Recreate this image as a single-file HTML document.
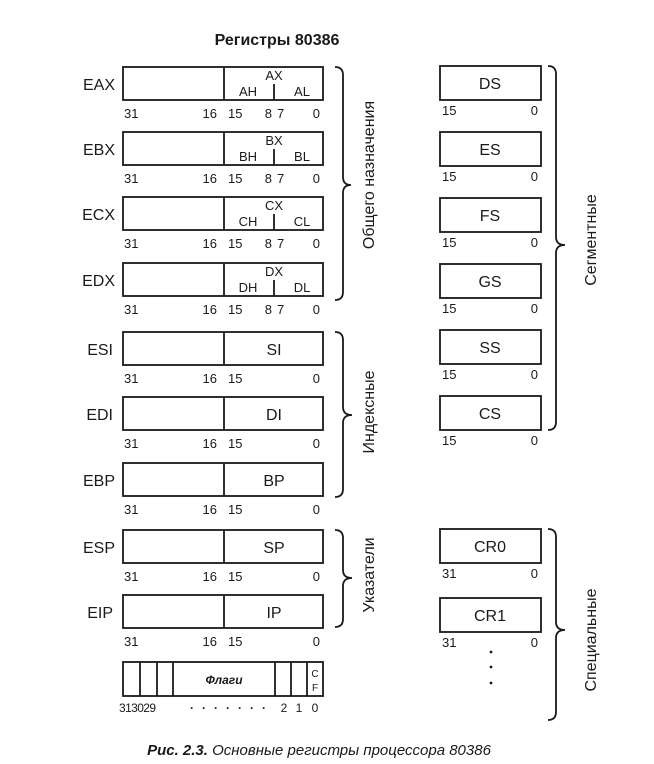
<!DOCTYPE html>
<html><head><meta charset="utf-8"><style>
html,body{margin:0;padding:0;background:#fff}
svg{display:block}
text{font-family:"Liberation Sans",sans-serif;fill:#1a1a1a}
.n{font-size:13px}
.r{font-size:16px}
.s{font-size:13px}
.b{fill:none;stroke:#1a1a1a;stroke-width:1.8}
</style></head><body>
<svg width="654" height="764" viewBox="0 0 654 764" xmlns="http://www.w3.org/2000/svg">
<text x="277" y="45" text-anchor="middle" font-size="16" font-weight="bold">Регистры 80386</text>

<g>
<text class="r" x="115" y="90" text-anchor="end">EAX</text>
<rect class="b" x="123" y="67" width="200" height="33"/><line class="b" x1="224" y1="67" x2="224" y2="100"/>
<line class="b" x1="274" y1="84" x2="274" y2="100" stroke-width="1.2"/>
<text class="s" x="274" y="80" text-anchor="middle">AX</text><text class="s" x="248" y="96" text-anchor="middle">AH</text><text class="s" x="302" y="96" text-anchor="middle">AL</text>
<text class="n" x="124" y="118">31</text><text class="n" x="217" y="118" text-anchor="end">16</text><text class="n" x="228" y="118">15</text><text class="n" x="272" y="118" text-anchor="end">8</text><text class="n" x="277" y="118">7</text><text class="n" x="320" y="118" text-anchor="end">0</text>
</g>
<g transform="translate(0,65)">
<text class="r" x="115" y="90" text-anchor="end">EBX</text>
<rect class="b" x="123" y="67" width="200" height="33"/><line class="b" x1="224" y1="67" x2="224" y2="100"/>
<line class="b" x1="274" y1="84" x2="274" y2="100" stroke-width="1.2"/>
<text class="s" x="274" y="80" text-anchor="middle">BX</text><text class="s" x="248" y="96" text-anchor="middle">BH</text><text class="s" x="302" y="96" text-anchor="middle">BL</text>
<text class="n" x="124" y="118">31</text><text class="n" x="217" y="118" text-anchor="end">16</text><text class="n" x="228" y="118">15</text><text class="n" x="272" y="118" text-anchor="end">8</text><text class="n" x="277" y="118">7</text><text class="n" x="320" y="118" text-anchor="end">0</text>
</g>
<g transform="translate(0,130)">
<text class="r" x="115" y="90" text-anchor="end">ECX</text>
<rect class="b" x="123" y="67" width="200" height="33"/><line class="b" x1="224" y1="67" x2="224" y2="100"/>
<line class="b" x1="274" y1="84" x2="274" y2="100" stroke-width="1.2"/>
<text class="s" x="274" y="80" text-anchor="middle">CX</text><text class="s" x="248" y="96" text-anchor="middle">CH</text><text class="s" x="302" y="96" text-anchor="middle">CL</text>
<text class="n" x="124" y="118">31</text><text class="n" x="217" y="118" text-anchor="end">16</text><text class="n" x="228" y="118">15</text><text class="n" x="272" y="118" text-anchor="end">8</text><text class="n" x="277" y="118">7</text><text class="n" x="320" y="118" text-anchor="end">0</text>
</g>
<g transform="translate(0,196)">
<text class="r" x="115" y="90" text-anchor="end">EDX</text>
<rect class="b" x="123" y="67" width="200" height="33"/><line class="b" x1="224" y1="67" x2="224" y2="100"/>
<line class="b" x1="274" y1="84" x2="274" y2="100" stroke-width="1.2"/>
<text class="s" x="274" y="80" text-anchor="middle">DX</text><text class="s" x="248" y="96" text-anchor="middle">DH</text><text class="s" x="302" y="96" text-anchor="middle">DL</text>
<text class="n" x="124" y="118">31</text><text class="n" x="217" y="118" text-anchor="end">16</text><text class="n" x="228" y="118">15</text><text class="n" x="272" y="118" text-anchor="end">8</text><text class="n" x="277" y="118">7</text><text class="n" x="320" y="118" text-anchor="end">0</text>
</g>

<g transform="translate(0,265)">
<text class="r" x="113" y="90" text-anchor="end">ESI</text>
<rect class="b" x="123" y="67" width="200" height="33"/><line class="b" x1="224" y1="67" x2="224" y2="100"/>
<text class="r" x="274" y="90" text-anchor="middle">SI</text>
<text class="n" x="124" y="118">31</text><text class="n" x="217" y="118" text-anchor="end">16</text><text class="n" x="228" y="118">15</text><text class="n" x="320" y="118" text-anchor="end">0</text>
</g>
<g transform="translate(0,330)">
<text class="r" x="113" y="90" text-anchor="end">EDI</text>
<rect class="b" x="123" y="67" width="200" height="33"/><line class="b" x1="224" y1="67" x2="224" y2="100"/>
<text class="r" x="274" y="90" text-anchor="middle">DI</text>
<text class="n" x="124" y="118">31</text><text class="n" x="217" y="118" text-anchor="end">16</text><text class="n" x="228" y="118">15</text><text class="n" x="320" y="118" text-anchor="end">0</text>
</g>
<g transform="translate(0,396)">
<text class="r" x="115" y="90" text-anchor="end">EBP</text>
<rect class="b" x="123" y="67" width="200" height="33"/><line class="b" x1="224" y1="67" x2="224" y2="100"/>
<text class="r" x="274" y="90" text-anchor="middle">BP</text>
<text class="n" x="124" y="118">31</text><text class="n" x="217" y="118" text-anchor="end">16</text><text class="n" x="228" y="118">15</text><text class="n" x="320" y="118" text-anchor="end">0</text>
</g>
<g transform="translate(0,463)">
<text class="r" x="115" y="90" text-anchor="end">ESP</text>
<rect class="b" x="123" y="67" width="200" height="33"/><line class="b" x1="224" y1="67" x2="224" y2="100"/>
<text class="r" x="274" y="90" text-anchor="middle">SP</text>
<text class="n" x="124" y="118">31</text><text class="n" x="217" y="118" text-anchor="end">16</text><text class="n" x="228" y="118">15</text><text class="n" x="320" y="118" text-anchor="end">0</text>
</g>
<g transform="translate(0,528)">
<text class="r" x="113" y="90" text-anchor="end">EIP</text>
<rect class="b" x="123" y="67" width="200" height="33"/><line class="b" x1="224" y1="67" x2="224" y2="100"/>
<text class="r" x="274" y="90" text-anchor="middle">IP</text>
<text class="n" x="124" y="118">31</text><text class="n" x="217" y="118" text-anchor="end">16</text><text class="n" x="228" y="118">15</text><text class="n" x="320" y="118" text-anchor="end">0</text>
</g>

<rect class="b" x="123" y="662" width="200" height="34"/>
<line class="b" x1="140" y1="662" x2="140" y2="696"/><line class="b" x1="157" y1="662" x2="157" y2="696"/><line class="b" x1="173" y1="662" x2="173" y2="696"/>
<line class="b" x1="275" y1="662" x2="275" y2="696"/><line class="b" x1="291" y1="662" x2="291" y2="696"/><line class="b" x1="307" y1="662" x2="307" y2="696"/>
<text x="224" y="684" text-anchor="middle" font-size="12" font-weight="bold" font-style="italic">Флаги</text>
<text x="315" y="677" text-anchor="middle" font-size="10">C</text><text x="315" y="691" text-anchor="middle" font-size="10">F</text>
<text x="119" y="712" font-size="12" letter-spacing="-0.6">313029</text>
<text x="190" y="712" font-size="12" letter-spacing="8" font-weight="bold">·······</text>
<text x="284" y="712" text-anchor="middle" font-size="12">2</text><text x="299" y="712" text-anchor="middle" font-size="12">1</text><text x="315" y="712" text-anchor="middle" font-size="12">0</text>

<path class="b" stroke-width="1.3" d="M335,67 Q343,67 343,75 L343,177 Q343,185 351,185 Q343,185 343,193 L343,292 Q343,300 335,300"/>
<path class="b" stroke-width="1.3" d="M335,332 Q343,332 343,340 L343,407 Q343,415 352,415 Q343,415 343,423 L343,489 Q343,497 335,497"/>
<path class="b" stroke-width="1.3" d="M335,530 Q343,530 343,538 L343,570 Q343,578 352,578 Q343,578 343,586 L343,619 Q343,627 335,627"/>
<text class="r" transform="translate(374,175) rotate(-90)" text-anchor="middle">Общего назначения</text>
<text class="r" transform="translate(374,412) rotate(-90)" text-anchor="middle">Индексные</text>
<text class="r" transform="translate(374,575) rotate(-90)" text-anchor="middle">Указатели</text>

<g>
<rect class="b" x="440" y="66" width="101" height="34"/><text class="r" x="490" y="89" text-anchor="middle">DS</text>
<text class="n" x="442" y="115">15</text><text class="n" x="538" y="115" text-anchor="end">0</text>
<rect class="b" x="440" y="132" width="101" height="34"/><text class="r" x="490" y="155" text-anchor="middle">ES</text>
<text class="n" x="442" y="181">15</text><text class="n" x="538" y="181" text-anchor="end">0</text>
<rect class="b" x="440" y="198" width="101" height="34"/><text class="r" x="490" y="221" text-anchor="middle">FS</text>
<text class="n" x="442" y="247">15</text><text class="n" x="538" y="247" text-anchor="end">0</text>
<rect class="b" x="440" y="264" width="101" height="34"/><text class="r" x="490" y="287" text-anchor="middle">GS</text>
<text class="n" x="442" y="313">15</text><text class="n" x="538" y="313" text-anchor="end">0</text>
<rect class="b" x="440" y="330" width="101" height="34"/><text class="r" x="490" y="353" text-anchor="middle">SS</text>
<text class="n" x="442" y="379">15</text><text class="n" x="538" y="379" text-anchor="end">0</text>
<rect class="b" x="440" y="396" width="101" height="34"/><text class="r" x="490" y="419" text-anchor="middle">CS</text>
<text class="n" x="442" y="445">15</text><text class="n" x="538" y="445" text-anchor="end">0</text>
</g>
<path class="b" stroke-width="1.3" d="M548,66 Q556,66 556,74 L556,237 Q556,245 565,245 Q556,245 556,253 L556,422 Q556,430 548,430"/>
<text class="r" transform="translate(596,240) rotate(-90)" text-anchor="middle">Сегментные</text>

<rect class="b" x="440" y="529" width="101" height="34"/><text class="r" x="490" y="552" text-anchor="middle">CR0</text>
<text class="n" x="442" y="578">31</text><text class="n" x="538" y="578" text-anchor="end">0</text>
<rect class="b" x="440" y="598" width="101" height="34"/><text class="r" x="490" y="621" text-anchor="middle">CR1</text>
<text class="n" x="442" y="647">31</text><text class="n" x="538" y="647" text-anchor="end">0</text>
<circle cx="491" cy="652" r="1.4" fill="#1a1a1a"/><circle cx="491" cy="667" r="1.4" fill="#1a1a1a"/><circle cx="491" cy="683" r="1.4" fill="#1a1a1a"/>
<path class="b" stroke-width="1.3" d="M548,529 Q556,529 556,537 L556,622 Q556,630 565,630 Q556,630 556,638 L556,712 Q556,720 548,720"/>
<text class="r" transform="translate(596,640) rotate(-90)" text-anchor="middle">Специальные</text>

<text x="319" y="755" text-anchor="middle" font-size="15" font-style="italic"><tspan font-weight="bold">Рис. 2.3.</tspan> Основные регистры процессора 80386</text>
</svg>
</body></html>
